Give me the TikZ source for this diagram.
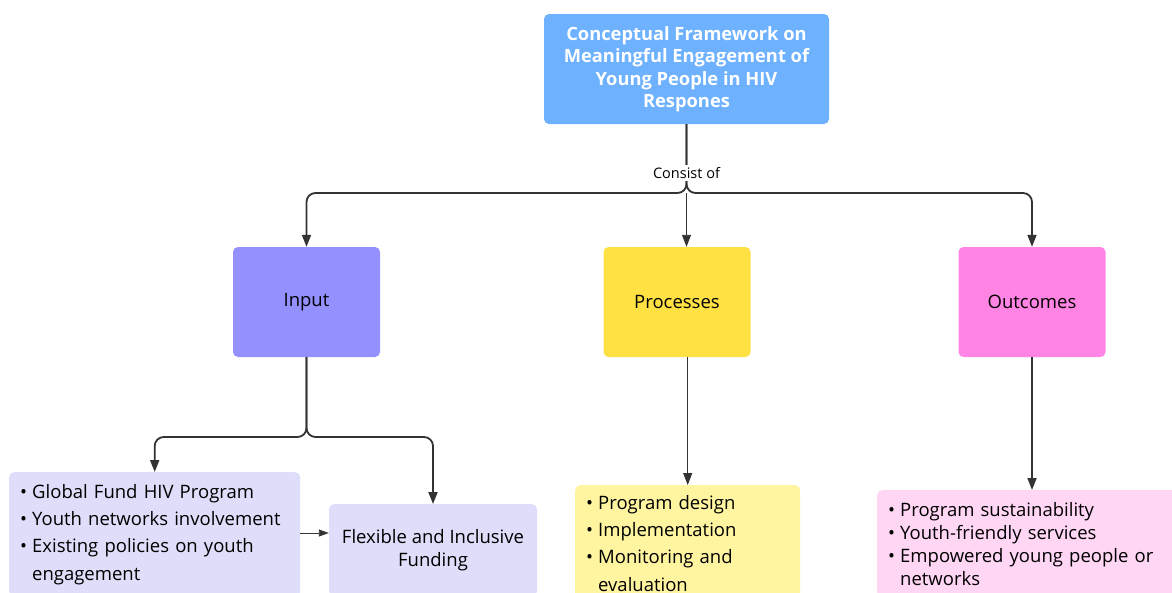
\documentclass[tikz,border=0pt]{standalone}
\usepackage{fontspec}
\setmainfont{Open Sans}
\usetikzlibrary{arrows.meta}
\definecolor{titleC}{RGB}{109,177,255}
\definecolor{inC}{RGB}{148,145,255}
\definecolor{procC}{RGB}{255,225,68}
\definecolor{outC}{RGB}{255,132,227}
\definecolor{lavC}{RGB}{222,222,250}
\definecolor{ylwC}{RGB}{255,245,160}
\definecolor{pnkC}{RGB}{255,214,244}
\definecolor{lineC}{RGB}{51,51,51}
\newcommand{\bul}{\makebox[12pt][l]{•}}
\newcommand{\ind}{\hspace*{12pt}}
\begin{document}
\begin{tikzpicture}[x=1pt,y=-1pt,
  box/.style={rounded corners=5pt, inner sep=0pt, font=\fontsize{18.5}{23}\selectfont, align=center},
  mainbox/.style={box, minimum width=147pt, minimum height=110pt},
  listbox/.style={rounded corners=5pt, inner xsep=11pt, align=left, anchor=north west},
  conn/.style={draw=lineC, line width=1.8pt, rounded corners=9pt, -{Triangle[length=12pt,width=9pt]}},
  thinconn/.style={draw=lineC, line width=0.9pt, -{Triangle[length=12pt,width=9pt]}},
  smallconn/.style={draw=lineC, line width=0.9pt, -{Triangle[length=10pt,width=7pt]}}]
\useasboundingbox (0,0) rectangle (1172,592);
\clip (0,0) rectangle (1172,592);
\fill[white] (0,0) rectangle (1172,592);

\node[box, fill=titleC, text=white, font=\bfseries\fontsize{18.3}{22.5}\selectfont,
  minimum width=285pt, minimum height=110pt] (title) at (686.5,69)
  {Conceptual Framework on\\Meaningful Engagement of\\Young People in HIV\\Respones};

\node[mainbox, fill=inC] (input) at (306.5,302) {Input};
\node[mainbox, fill=procC] (proc) at (677,302) {Processes};
\node[mainbox, fill=outC] (outc) at (1032,302) {Outcomes};

\node[listbox, fill=lavC, inner ysep=12pt, text width=269pt, font=\fontsize{18.5}{27.3}\selectfont] (inlist) at (9,472)
  {\bul Global Fund HIV Program\\\bul Youth networks involvement\\\bul Existing policies on youth\\\ind engagement};
\node[box, fill=lavC, minimum width=208pt, minimum height=92pt, anchor=north,
  font=\fontsize{18.5}{23}\selectfont] (flex) at (433,504)
  {Flexible and Inclusive\\Funding};
\node[listbox, fill=ylwC, inner ysep=10pt, text width=203pt, font=\fontsize{18.5}{27.3}\selectfont] (plist) at (575,485)
  {\bul Program design\\\bul Implementation\\\bul Monitoring and\\\ind evaluation};
\node[listbox, fill=pnkC, inner ysep=12pt, text width=300pt, font=\fontsize{18.5}{23}\selectfont] (olist) at (877,490)
  {\bul Program sustainability\\\bul Youth-friendly services\\\bul Empowered young people or\\\ind networks};

\coordinate (split) at (686.5,193);
\draw[conn] (title.south) -- (split) -| (input.north);
\draw[conn] (title.south) -- (split) -| (outc.north);
\draw[thinconn] (split) -- (split |- proc.north);
\node[fill=white, inner sep=2pt, font=\fontsize{14.5}{16}\selectfont] (cons) at (686.5,173) {Consist of};

\coordinate (isplit) at (306.5,437);
\draw[conn] (input.south) -- (isplit) -| (inlist.north);
\draw[conn] (input.south) -- (isplit) -| (flex.north);

\coordinate (a1) at (300,533);
\draw[smallconn] (a1) -- (a1 -| flex.west);

\draw[thinconn] (plist.north |- proc.south) -- (plist.north);
\draw[conn] (outc.south) -- (outc.south |- olist.north);
\end{tikzpicture}
\end{document}
